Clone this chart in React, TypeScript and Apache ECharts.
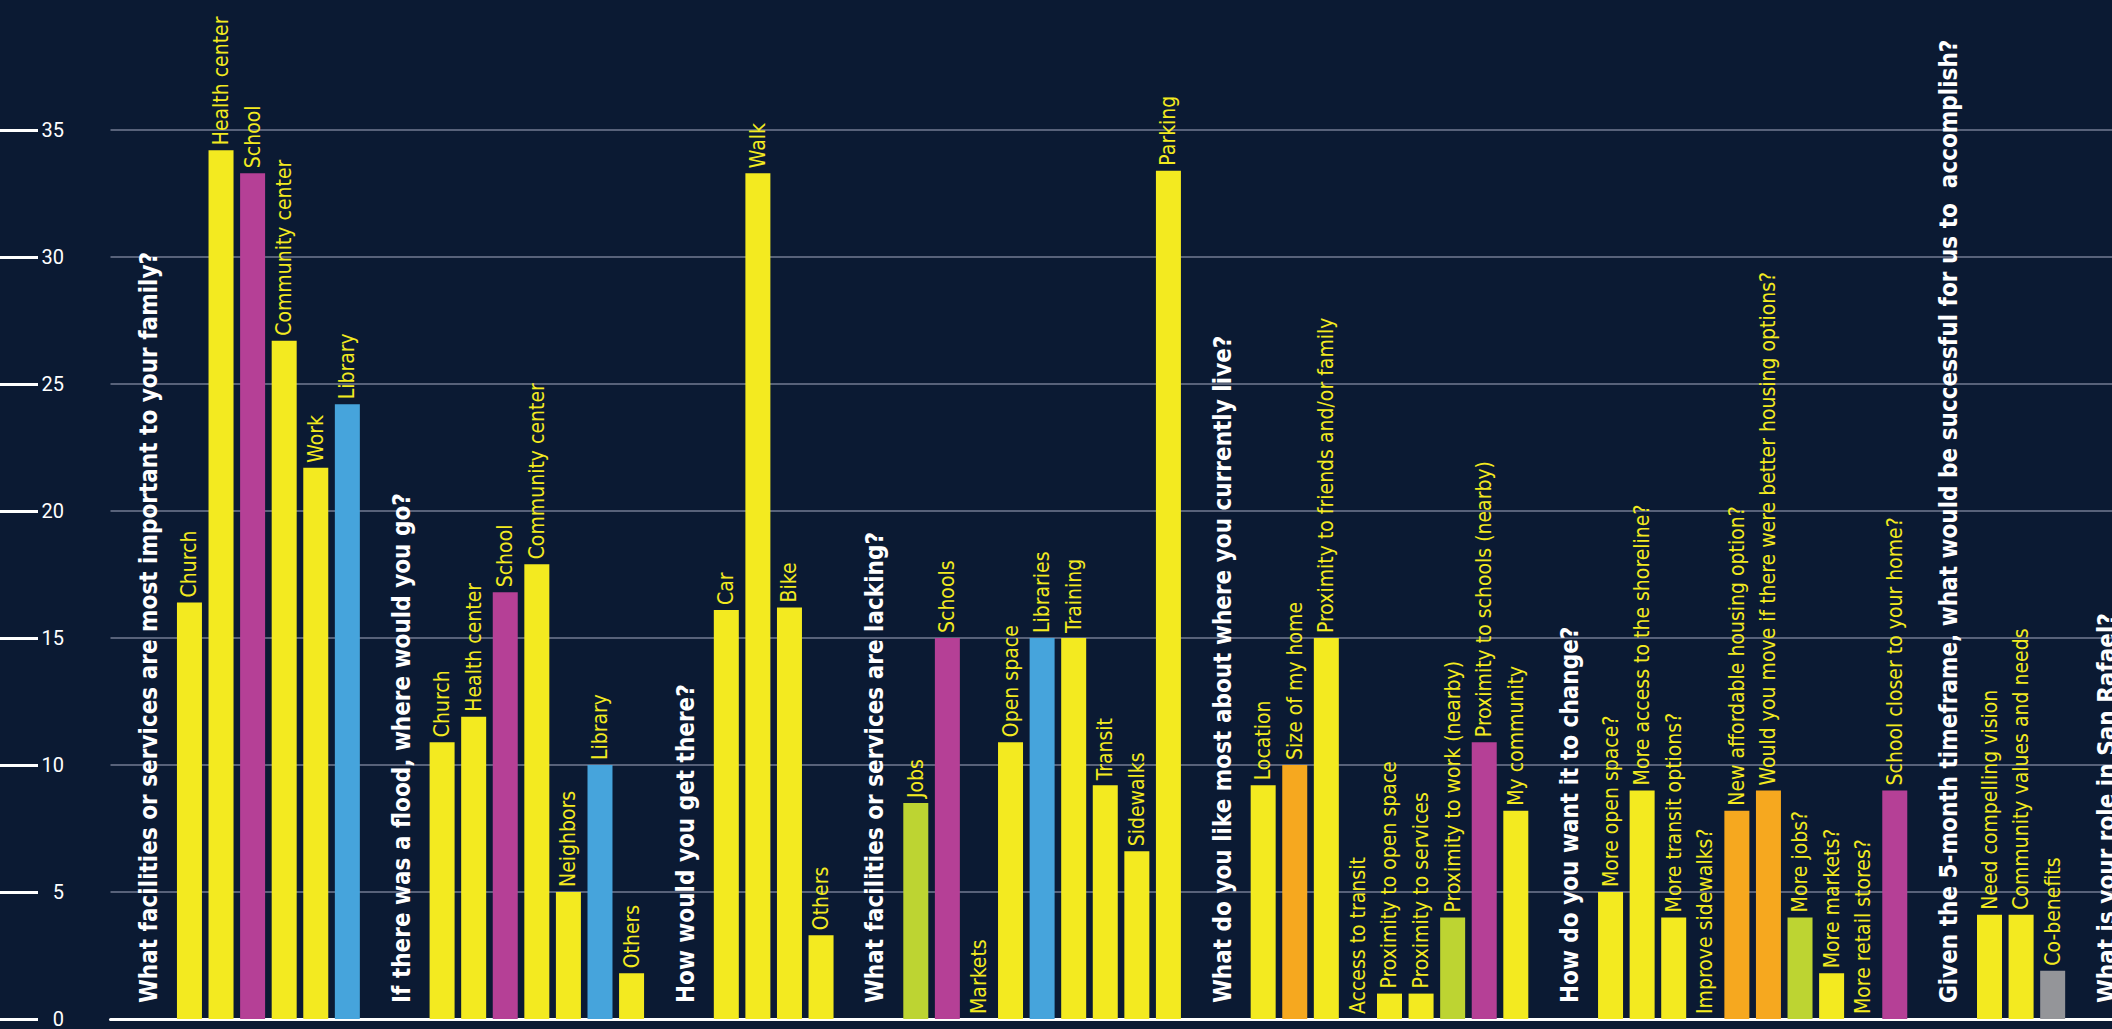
import React, { useEffect, useRef } from "react";
import * as echarts from "echarts";

// ---- Data ----
const questions = [
  "What facilities or services are most important to your family?",
  "If there was a flood, where would you go?",
  "How would you get there?",
  "What facilities or services are lacking?",
  "What do you like most about where you currently live?",
  "How do you want it to change?",
  "Given the 5-month timeframe, what would be successful for us to  accomplish?",
  "What is your role in San Rafael?",
];

const g1Labels = ["Church", "Health center", "School", "Community center", "Work", "Library"];
const g1Values = [16.4, 34.2, 33.3, 26.7, 21.7, 24.2];
const g1Kinds = ["", "", "school", "", "", "library"];

const g2Labels = ["Church", "Health center", "School", "Community center", "Neighbors", "Library", "Others"];
const g2Values = [10.9, 11.9, 16.8, 17.9, 5.0, 10.0, 1.8];
const g2Kinds = ["", "", "school", "", "", "library", ""];

const g3Labels = ["Car", "Walk", "Bike", "Others"];
const g3Values = [16.1, 33.3, 16.2, 3.3];
const g3Kinds = ["", "", "", ""];

const g4Labels = ["Jobs", "Schools", "Markets", "Open space", "Libraries", "Training", "Transit", "Sidewalks", "Parking"];
const g4Values = [8.5, 15.0, 0, 10.9, 15.0, 15.0, 9.2, 6.6, 33.4];
const g4Kinds = ["jobs", "school", "", "", "library", "", "", "", ""];

const g5Labels = [
  "Location",
  "Size of my home",
  "Proximity to friends and/or family",
  "Access to transit",
  "Proximity to open space",
  "Proximity to services",
  "Proximity to work (nearby)",
  "Proximity to schools (nearby)",
  "My community",
];
const g5Values = [9.2, 10.0, 15.0, 0, 1.0, 1.0, 4.0, 10.9, 8.2];
const g5Kinds = ["", "housing", "", "", "", "", "jobs", "school", ""];

const g6Labels = [
  "More open space?",
  "More access to the shoreline?",
  "More transit options?",
  "Improve sidewalks?",
  "New affordable housing option?",
  "Would you move if there were better housing options?",
  "More jobs?",
  "More markets?",
  "More retail stores?",
  "School closer to your home?",
];
const g6Values = [5.0, 9.0, 4.0, 0, 8.2, 9.0, 4.0, 1.8, 0, 9.0];
const g6Kinds = ["", "", "", "", "housing", "housing", "jobs", "", "", "school"];

const g7Labels = ["Need compelling vision", "Community values and needs", "Co-benefits"];
const g7Values = [4.1, 4.1, 1.9];
const g7Kinds = ["", "", "other"];

const yMin = 0;
const yMax = 35;
const yInterval = 5;

// ---- Styles ----
const BG = "#0b1a33";
const YELLOW = "#f3ea20";
const kindColors: Record<string, string> = {
  "": YELLOW,
  school: "#b54096",
  library: "#46a4dc",
  jobs: "#bdd432",
  housing: "#f6a81f",
  other: "#949599",
};
const LABEL_FONT = "'DejaVu Sans Condensed', 'DejaVu Sans', sans-serif";

const groups = [
  { labels: g1Labels, values: g1Values, kinds: g1Kinds },
  { labels: g2Labels, values: g2Values, kinds: g2Kinds },
  { labels: g3Labels, values: g3Values, kinds: g3Kinds },
  { labels: g4Labels, values: g4Values, kinds: g4Kinds },
  { labels: g5Labels, values: g5Values, kinds: g5Kinds },
  { labels: g6Labels, values: g6Values, kinds: g6Kinds },
  { labels: g7Labels, values: g7Values, kinds: g7Kinds },
];

const headerLabel = {
  show: true,
  position: "top",
  distance: 16,
  rotate: 90,
  align: "left",
  verticalAlign: "middle",
  color: "#ffffff",
  fontWeight: "bold",
  fontSize: 24,
  fontFamily: LABEL_FONT,
  offset: [0, -9],
};

function buildData() {
  const categories: string[] = [];
  const data: any[] = [];
  const pushSpacer = () => {
    categories.push("");
    data.push({ value: "-", label: { show: false } });
  };
  const pushHeader = (q: string) => {
    categories.push(q);
    data.push({ value: 0, itemStyle: { color: "rgba(0,0,0,0)" }, label: headerLabel });
  };
  groups.forEach((g, gi) => {
    pushSpacer();
    pushHeader(questions[gi]);
    g.labels.forEach((lab, i) => {
      categories.push(lab);
      data.push({ value: g.values[i], itemStyle: { color: kindColors[g.kinds[i]] } });
    });
  });
  pushSpacer();
  pushHeader(questions[7]);
  return { categories, data };
}

const SLOT = 31.58;
const GRID_LEFT = 110.5;
const CHART_W = Math.ceil(GRID_LEFT + 64 * SLOT);

export default function App() {
  const ref = useRef<HTMLDivElement>(null);
  useEffect(() => {
    if (!ref.current) return;
    const chart = echarts.init(ref.current, null, { renderer: "svg" });
    const { categories, data } = buildData();
    const gridRight = CHART_W - (GRID_LEFT + categories.length * SLOT);
    chart.setOption({
      animation: false,
      backgroundColor: BG,
      grid: { left: GRID_LEFT, right: gridRight, top: 130, bottom: 8.5, containLabel: false },
      xAxis: {
        type: "category",
        data: categories,
        boundaryGap: true,
        axisLine: { show: true, lineStyle: { color: "#ffffff", width: 3 } },
        axisTick: { show: false },
        axisLabel: { show: false },
        splitLine: { show: false },
      },
      yAxis: {
        type: "value",
        min: yMin,
        max: yMax,
        interval: yInterval,
        offset: GRID_LEFT - 38,
        axisLine: { show: false },
        axisTick: { show: true, length: 38, lineStyle: { color: "#ffffff", width: 3 } },
        axisLabel: {
          inside: true,
          align: "right",
          margin: 26,
          color: "#ffffff",
          fontFamily: "Roboto, sans-serif",
          fontSize: 20,
        },
        splitLine: { show: true, lineStyle: { color: "#58627a", width: 2 } },
      },
      series: [
        {
          type: "bar",
          barWidth: 25,
          data,
          label: {
            show: true,
            position: "top",
            distance: 5,
            rotate: 90,
            align: "left",
            verticalAlign: "middle",
            color: YELLOW,
            fontFamily: LABEL_FONT,
            fontSize: 21,
            formatter: (p: any) => p.name,
          },
        },
      ],
    });
    return () => chart.dispose();
  }, []);
  return (
    <div
      style={{
        position: "fixed",
        left: 0,
        top: 0,
        width: 2112,
        height: 1029,
        overflow: "hidden",
        background: BG,
      }}
    >
      <div ref={ref} style={{ width: CHART_W, height: 1029 }} />
    </div>
  );
}
